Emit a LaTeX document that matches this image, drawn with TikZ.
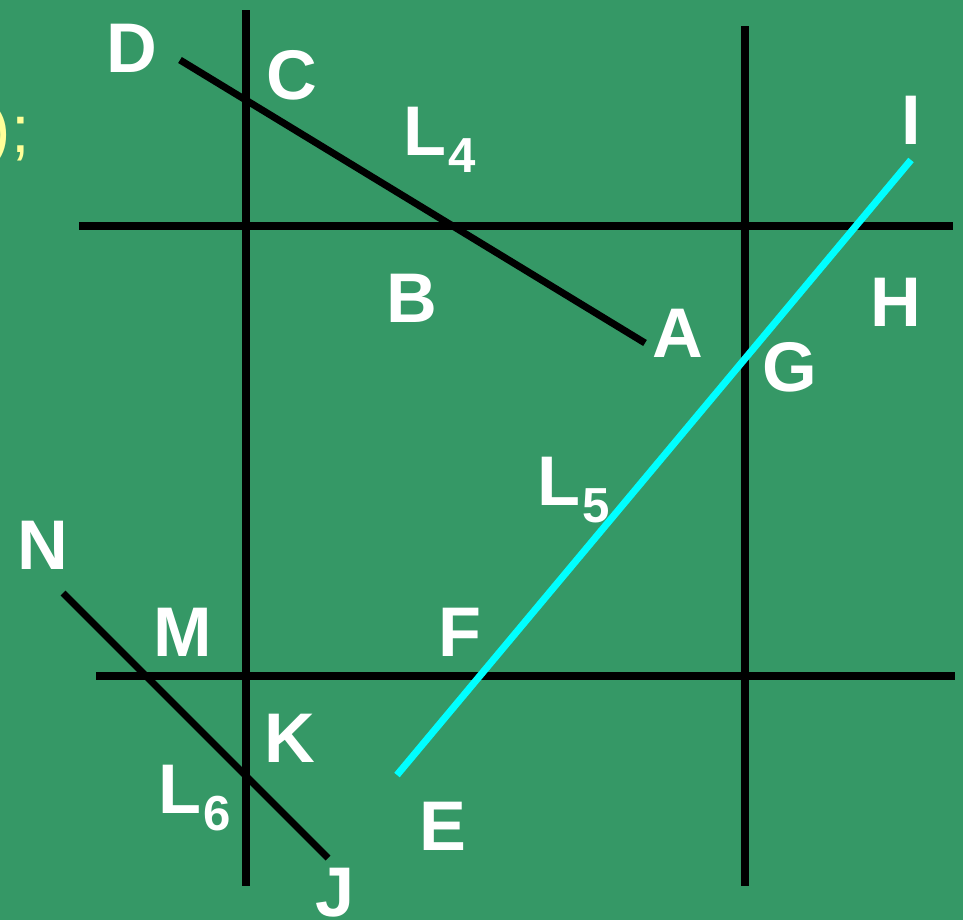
\documentclass[tikz,border=0pt]{standalone}
\usepackage{fontspec}
\setmainfont{Liberation Sans}
\definecolor{bg}{RGB}{53,152,102}
\definecolor{ylw}{RGB}{255,255,153}
\definecolor{cyn}{RGB}{0,255,255}
\begin{document}
\begin{tikzpicture}[x=0.02cm,y=-0.02cm,
  lbl/.style={text=white,font=\fontsize{40}{40}\selectfont\bfseries,inner sep=0pt},
  ln/.style={line width=4pt,black},
  cy/.style={line width=4pt,cyn}]
\fill[bg] (0,0) rectangle (963,920);
\useasboundingbox (0,0) rectangle (963,920);
\newcommand{\Lsub}[1]{L\kern1pt\raisebox{-10pt}{\fontsize{28}{28}\selectfont #1}}
% yellow partial text
\node[anchor=base east,inner sep=0pt,text=ylw,font=\fontsize{38}{38}\selectfont] (ytxt) at (30,152) {);};
% grid
\coordinate (v1t) at (246,10); \coordinate (v1b) at (246,886);
\coordinate (v2t) at (745,26); \coordinate (v2b) at (745,886);
\coordinate (h1l) at (79,226); \coordinate (h1r) at (953,226);
\coordinate (h2l) at (96,676); \coordinate (h2r) at (955,676);
\draw[ln] (v1t) -- (v1b);
\draw[ln] (v2t) -- (v2b);
\draw[ln] (h1l) -- (h1r);
\draw[ln] (h2l) -- (h2r);
% lines
\coordinate (l4a) at (180,60); \coordinate (l4b) at (645,343);
\coordinate (l5a) at (397,775); \coordinate (l5b) at (911,160);
\coordinate (l6a) at (63,593); \coordinate (l6b) at (328,858);
\draw[ln] (l4a) -- (l4b);
\draw[cy] (l5a) -- (l5b);
\draw[ln] (l6a) -- (l6b);
% labels
\node[lbl] (D) at (132,48) {D};
\node[lbl] (C) at (292,75) {C};
\node[lbl,anchor=base west] (L4) at (403,155) {\Lsub{4}};
\node[lbl] (B) at (412,298) {B};
\node[lbl] (A) at (678,333) {A};
\node[lbl] (I) at (911,120) {I};
\node[lbl] (H) at (896,302) {H};
\node[lbl] (G) at (790,367) {G};
\node[lbl,anchor=base west] (L5) at (537,505) {\Lsub{5}};
\node[lbl] (N) at (43,545) {N};
\node[lbl] (M) at (183,632) {M};
\node[lbl] (F) at (460,632) {F};
\node[lbl] (K) at (290,738) {K};
\node[lbl,anchor=base west] (L6) at (158,813) {\Lsub{6}};
\node[lbl] (E) at (443,826) {E};
\node[lbl] (J) at (335,893) {J};
\end{tikzpicture}
\end{document}
